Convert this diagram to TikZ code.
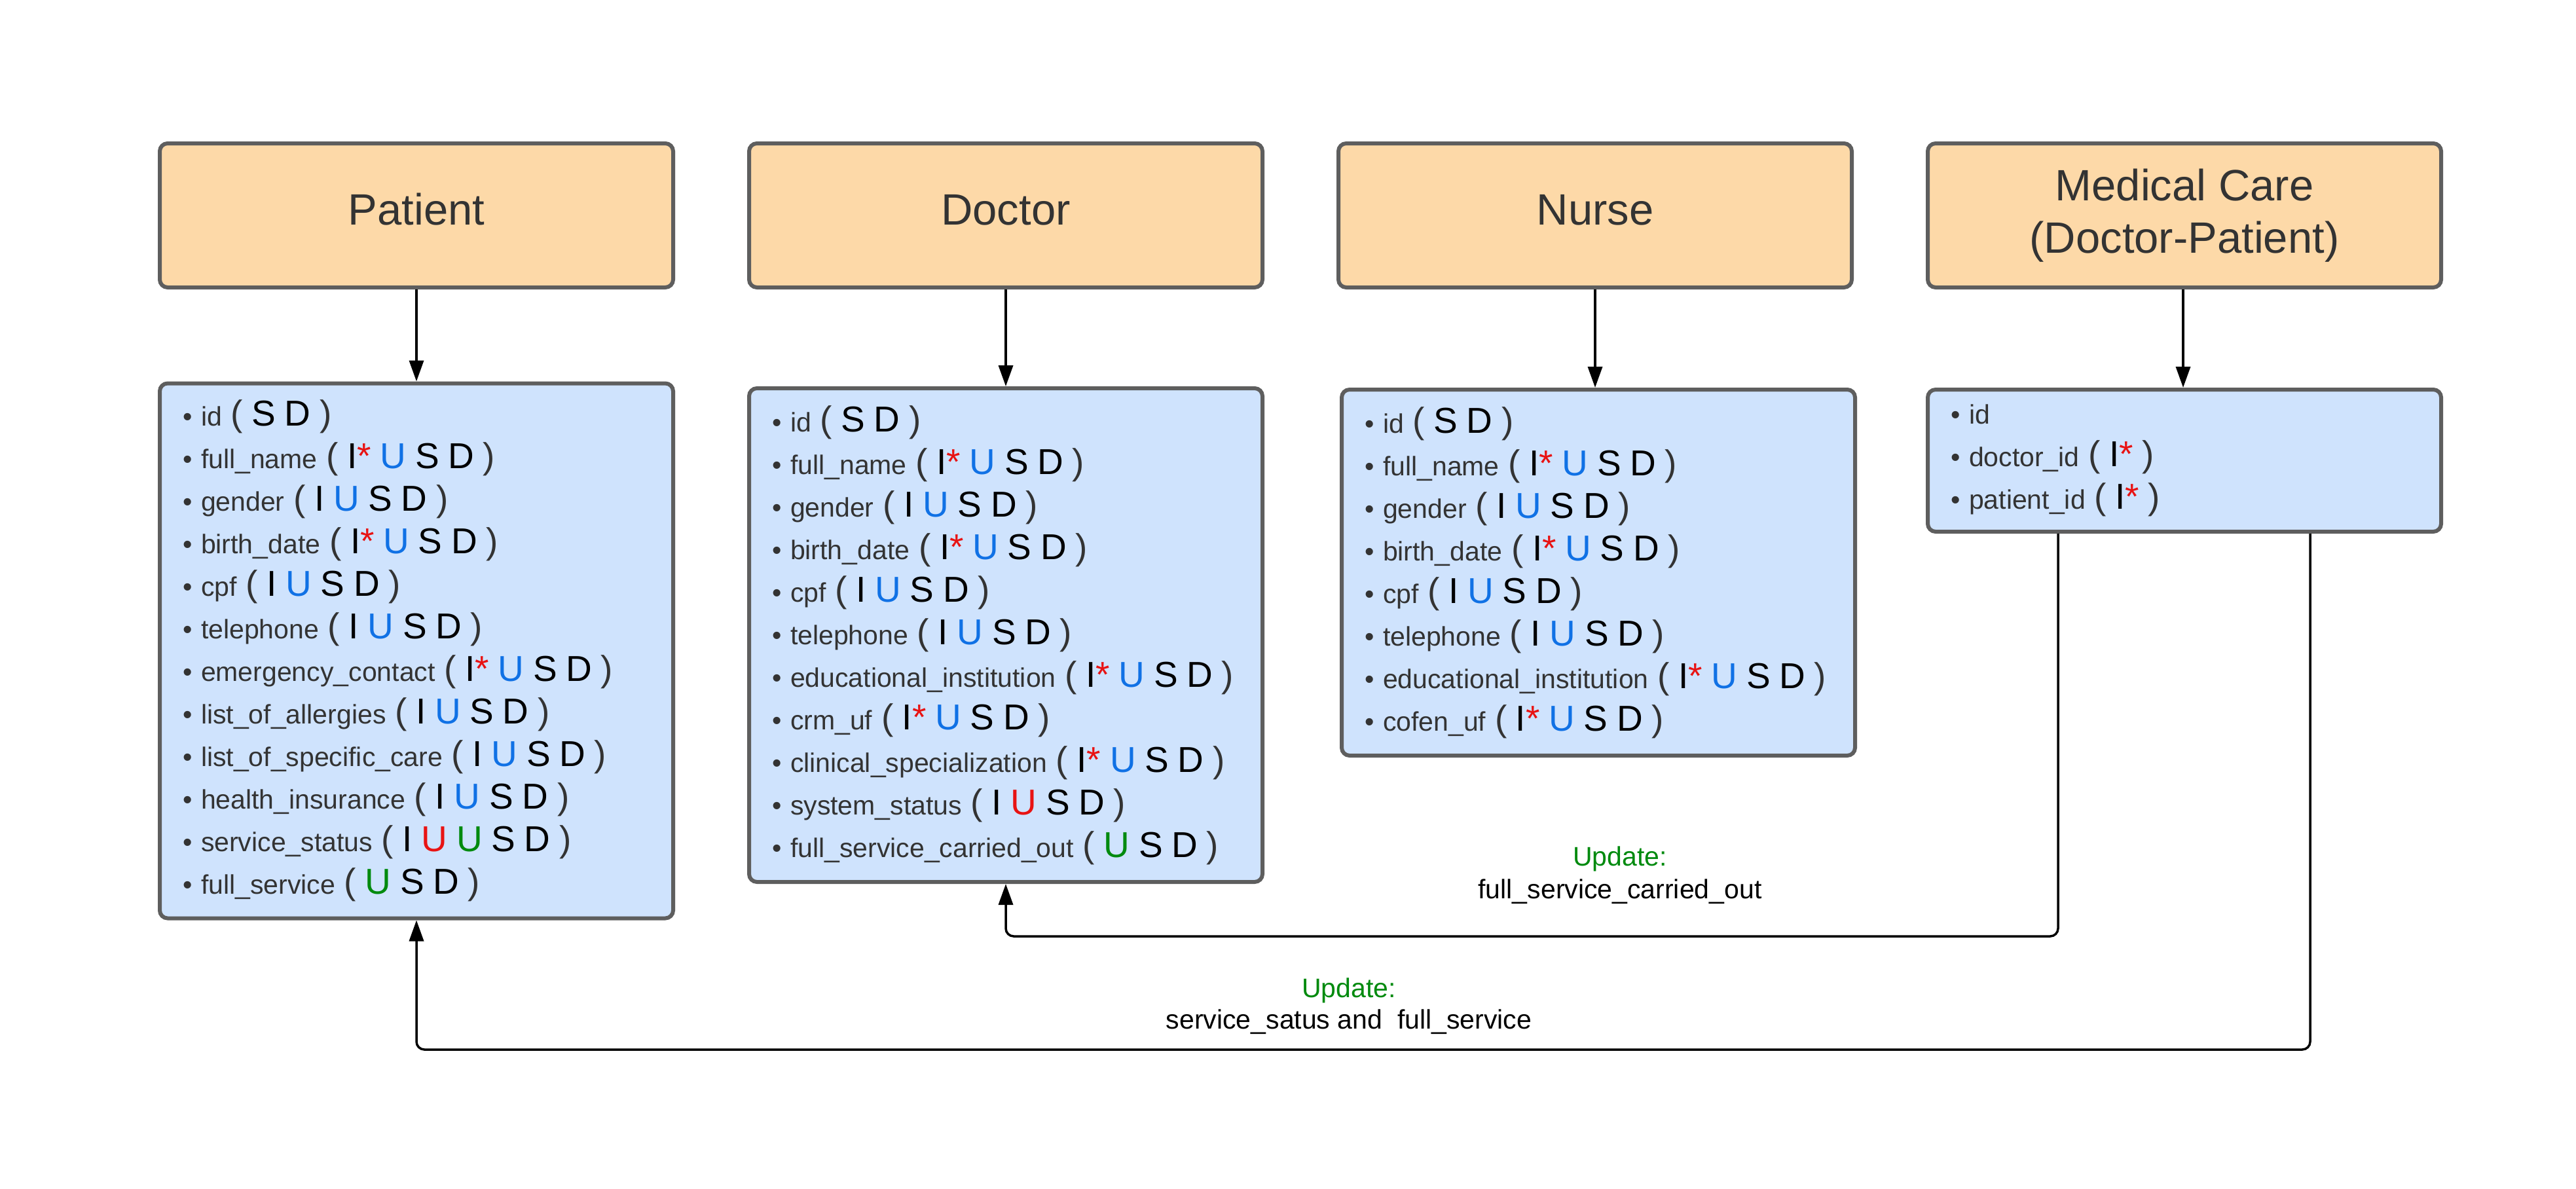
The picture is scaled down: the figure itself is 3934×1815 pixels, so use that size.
\documentclass[tikz,border=0pt]{standalone}
\usepackage{fontspec}
\setmainfont{Liberation Sans}
\usetikzlibrary{arrows.meta,calc}
\definecolor{hdrc}{HTML}{FDD9A8}
\definecolor{bodyc}{HTML}{CFE3FD}
\definecolor{bordc}{HTML}{5E5E5E}
\definecolor{txtc}{HTML}{333333}
\definecolor{bluec}{HTML}{1071E5}
\definecolor{redc}{HTML}{E81313}
\definecolor{greenc}{HTML}{008A0E}
\newcommand\ops[1]{{\fontsize{55}{65}\selectfont( \textcolor{black}{#1} )}}
\newcommand\IS{I\textcolor{redc}{*}}
\newcommand\BU{\textcolor{bluec}{U}}
\newcommand\RU{\textcolor{redc}{U}}
\newcommand\GU{\textcolor{greenc}{U}}
\newcommand\itm{\textbullet\ }
\tikzset{
  hdr/.style={draw=bordc, line width=6pt, fill=hdrc, rounded corners=12pt,
    minimum width=784pt, minimum height=220pt, text=txtc, align=center,
    font=\fontsize{67}{80}\selectfont},
  hdrone/.style={hdr, text height=48pt, text depth=20pt},
  bodybox/.style={draw=bordc, line width=6pt, fill=bodyc, rounded corners=12pt,
    text width=714pt, inner xsep=35pt, inner ysep=0pt, align=left, text=txtc,
    font=\fontsize{41}{65}\selectfont},
  conn/.style={draw=black, line width=3.5pt, rounded corners=12pt,
    -{Triangle[length=32pt,width=22pt]}},
  lbl/.style={inner sep=0pt, font=\fontsize{41}{50}\selectfont},
}
\begin{document}
\begin{tikzpicture}[x=1pt,y=-1pt]
\useasboundingbox (0,0) rectangle (3934,1815);
\fill[white] (0,0) rectangle (3934,1815);
% headers
\node[hdrone] (ph) at (636,329) {Patient};
\node[hdrone] (dh) at (1536,329) {Doctor};
\node[hdrone] (nh) at (2436,329) {Nurse};
\node[hdr] (mh) at (3336,329) {Medical Care\\(Doctor-Patient)};
% bodies
\node[bodybox, minimum height=817pt] (pb) at (636,994) {%
\itm id \ops{S D}\\
\itm full\_name \ops{{\IS} {\BU} S D}\\
\itm gender \ops{I {\BU} S D}\\
\itm birth\_date \ops{{\IS} {\BU} S D}\\
\itm cpf \ops{I {\BU} S D}\\
\itm telephone \ops{I {\BU} S D}\\
\itm emergency\_contact \ops{{\IS} {\BU} S D}\\
\itm list\_of\_allergies \ops{I {\BU} S D}\\
\itm list\_of\_specific\_care \ops{I {\BU} S D}\\
\itm health\_insurance \ops{I {\BU} S D}\\
\itm service\_status \ops{I {\RU} {\GU} S D}\\
\itm full\_service \ops{{\GU} S D}};
\node[bodybox, minimum height=754pt] (db) at (1536,970) {%
\itm id \ops{S D}\\
\itm full\_name \ops{{\IS} {\BU} S D}\\
\itm gender \ops{I {\BU} S D}\\
\itm birth\_date \ops{{\IS} {\BU} S D}\\
\itm cpf \ops{I {\BU} S D}\\
\itm telephone \ops{I {\BU} S D}\\
\itm educational\_institution \ops{{\IS} {\BU} S D}\\
\itm crm\_uf \ops{{\IS} {\BU} S D}\\
\itm clinical\_specialization \ops{{\IS} {\BU} S D}\\
\itm system\_status \ops{I {\RU} S D}\\
\itm full\_service\_carried\_out \ops{{\GU} S D}};
\node[bodybox, minimum height=559pt] (nb) at (2441,874.5) {%
\itm id \ops{S D}\\
\itm full\_name \ops{{\IS} {\BU} S D}\\
\itm gender \ops{I {\BU} S D}\\
\itm birth\_date \ops{{\IS} {\BU} S D}\\
\itm cpf \ops{I {\BU} S D}\\
\itm telephone \ops{I {\BU} S D}\\
\itm educational\_institution \ops{{\IS} {\BU} S D}\\
\itm cofen\_uf \ops{{\IS} {\BU} S D}};
\node[bodybox, minimum height=217pt] (mb) at (3336,703.5) {%
\itm id\\
\itm doctor\_id \ops{{\IS}}\\
\itm patient\_id \ops{{\IS}}};
% header -> body arrows
\draw[conn] (ph.south) -- (ph.south |- pb.north);
\draw[conn] (dh.south) -- (dh.south |- db.north);
\draw[conn] (nh.south) -- (nh.south |- nb.north);
\draw[conn] ([xshift=-2pt]mh.south) -- ([xshift=-2pt]mh.south |- mb.north);
% update connectors
\coordinate (m1) at ([xshift=-193pt]mb.south);
\coordinate (m2) at ([xshift=192pt]mb.south);
\coordinate (y1) at (0,1430);
\coordinate (y2) at (0,1603);
\draw[conn] (m1) |- (y1 -| db.south) -- (db.south);
\draw[conn] (m2) |- (y2 -| pb.south) -- (pb.south);
% labels
\node[lbl, text=greenc] (u1) at (2474,1312) {Update:};
\node[lbl, text=black] (t1) at (2474,1362) {full\_service\_carried\_out};
\node[lbl, text=greenc] (u2) at (2060,1513) {Update:};
\node[lbl, text=black] (t2) at (2060,1561) {service\_satus and\ \ full\_service};
\end{tikzpicture}
\end{document}
